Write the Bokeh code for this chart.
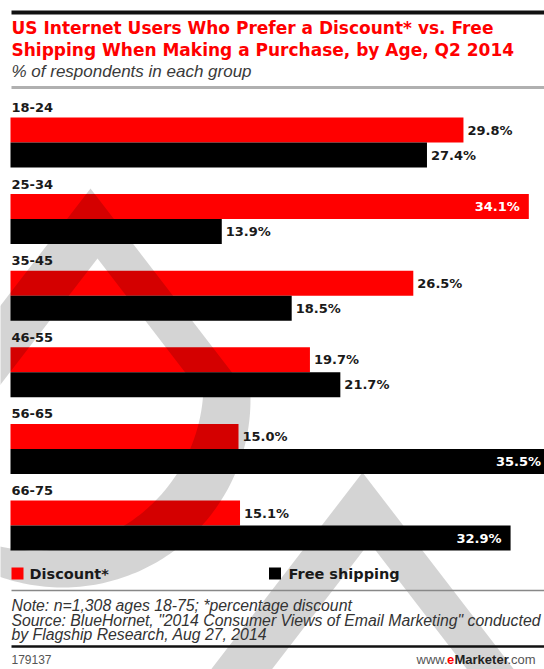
import numpy as np
from bokeh.plotting import figure
from bokeh.models import Range1d
from bokeh.embed import file_html
from bokeh.resources import INLINE
from bokeh.core.properties import value

# ---------------- data ----------------
groups = ["18-24", "25-34", "35-45", "46-55", "56-65", "66-75"]
discount = [29.8, 34.1, 26.5, 19.7, 15.0, 15.1]
free_shipping = [27.4, 13.9, 18.5, 21.7, 35.5, 32.9]
series_names = ["Discount*", "Free shipping"]
series_colors = ["#ff0000", "#000000"]

title_lines = ["US Internet Users Who Prefer a Discount* vs. Free",
               "Shipping When Making a Purchase, by Age, Q2 2014"]
subtitle = "% of respondents in each group"
note_lines = ["Note: n=1,308 ages 18-75; *percentage discount",
              "Source: BlueHornet, \"2014 Consumer Views of Email Marketing\" conducted",
              "by Flagship Research, Aug 27, 2014"]
chart_id = "179137"
brand_parts = ["www.", "e", "Marketer", ".com"]

# ---------------- layout ----------------
W, H = 544, 669
X0 = 10.0          # pixel of the value 0
SCALE = 15.2       # pixels per percentage point
GROUP_Y0 = 107.0   # centre of first group label (pixels from top)
PITCH = 76.6
RED_OFF, BLK_OFF, BAR_H = 22.5, 47.5, 25
INSIDE_MIN = 30.0

BOLD = value("DejaVu Sans")
SANS = value("Liberation Sans")


def px(xp):
    """pixel x -> data x (percentage units)"""
    return (np.asarray(xp, dtype=float) - X0) / SCALE


p = figure(width=W, height=H, output_backend="svg", toolbar_location=None,
           x_range=Range1d(float(px(0)), float(px(W))), y_range=Range1d(H, 0),
           x_axis_location=None, y_axis_location=None, min_border=0)
p.grid.visible = False
p.outline_line_color = None
p.background_fill_color = "white"
p.border_fill_color = "white"

n = len(groups)
gy = [GROUP_Y0 + i * PITCH for i in range(n)]
red_y = [g + RED_OFF for g in gy]
blk_y = [g + BLK_OFF for g in gy]

# bars
p.hbar(y=red_y, left=0, right=discount, height=BAR_H, fill_color=series_colors[0],
       line_color=None)
p.hbar(y=blk_y, left=0, right=free_shipping, height=BAR_H, fill_color=series_colors[1],
       line_color=None)


# ---------------- watermark (decorative logo shape) ----------------
def logo_outline(apex, centre, radius, slope=1.3, npts=140):
    P = np.array(apex, float)
    C = np.array(centre, float)
    dr = np.array([1.0, slope]) / np.hypot(1.0, slope)
    dl = np.array([-dr[0], dr[1]])

    def exit_point(d):
        b = d @ (P - C)
        c = (P - C) @ (P - C) - radius ** 2
        s = -b + np.sqrt(b * b - c)
        return P + s * d

    pr, pl = exit_point(dr), exit_point(dl)
    tr = np.arctan2(pr[1] - C[1], pr[0] - C[0])
    tl = np.arctan2(pl[1] - C[1], pl[0] - C[0])
    t = np.linspace(tr, tl, npts)
    xs = np.concatenate([[P[0]], C[0] + radius * np.cos(t)])
    ys = np.concatenate([[P[1]], C[1] + radius * np.sin(t)])
    return xs, ys


wx, wy = [], []
for dx, dy in [(0, 0), (272, 284)]:
    ox, oy = logo_outline((90 + dx, 188 + dy), (62 + dx, 399 + dy), 188)
    ix, iy = logo_outline((97 + dx, 258 + dy), (36 + dx, 383 + dy), 167)
    wx.append([[px(ox).tolist(), px(ix[::-1]).tolist()]])
    wy.append([[oy.tolist(), iy[::-1].tolist()]])
p.multi_polygons(xs=wx, ys=wy, fill_color="black", fill_alpha=0.17, line_color=None)

# group labels
p.text(x=[0] * n, y=gy, text=groups, text_font=BOLD, text_font_style="bold",
       text_font_size="13px", text_color="#1a1a1a", text_baseline="middle",
       text_align="left", x_offset=1)

# value labels
for vals, ys in [(discount, red_y), (free_shipping, blk_y)]:
    out_x = [v for v in vals if v < INSIDE_MIN]
    out_y = [y for v, y in zip(vals, ys) if v < INSIDE_MIN]
    out_t = ["%.1f%%" % v for v in vals if v < INSIDE_MIN]
    in_x = [v for v in vals if v >= INSIDE_MIN]
    in_y = [y for v, y in zip(vals, ys) if v >= INSIDE_MIN]
    in_t = ["%.1f%%" % v for v in vals if v >= INSIDE_MIN]
    p.text(x=out_x, y=out_y, text=out_t, text_font=BOLD, text_font_style="bold",
           text_font_size="13px", text_color="#1a1a1a", text_baseline="middle",
           text_align="left", x_offset=4)
    p.text(x=in_x, y=in_y, text=in_t, text_font=BOLD, text_font_style="bold",
           text_font_size="13px", text_color="white", text_baseline="middle",
           text_align="right", x_offset=-9)

L = float(px(11))
R_ = float(px(W))

# header
p.segment(x0=[L], x1=[R_], y0=[12], y1=[12], line_color="#111", line_width=4)
p.text(x=[L] * 2, y=[27, 49], text=title_lines, text_font=BOLD,
       text_font_style="bold", text_font_size="17px", text_color="#ff0000",
       text_baseline="middle")
p.text(x=[L], y=[71], text=[subtitle], text_font=SANS, text_font_style="italic",
       text_font_size="17px", text_color="#3a3a3a", text_baseline="middle")
p.segment(x0=[L], x1=[R_], y0=[87], y1=[87], line_color="#b0b0b0", line_width=3)

# legend
p.scatter(x=px([17, 274.5]).tolist(), y=[573, 573], marker="square", size=12,
          fill_color=series_colors, line_color=None)
p.text(x=px([29, 288]).tolist(), y=[573, 573], text=series_names, text_font=BOLD,
       text_font_style="bold", text_font_size="14.5px", text_color="#1a1a1a",
       text_baseline="middle")

# notes
p.segment(x0=[L], x1=[R_], y0=[590], y1=[590], line_color="#888", line_width=1.5)
p.text(x=[L] * 3, y=[605, 620, 634], text=note_lines, text_font=SANS,
       text_font_style="italic", text_font_size="15.8px", text_color="#333",
       text_baseline="middle")
p.segment(x0=[L], x1=[R_], y0=[646], y1=[646], line_color="#111", line_width=2.5)

# footer
p.text(x=[L], y=[659], text=[chart_id], text_font=SANS, text_font_size="12px",
       text_color="#555", text_baseline="middle")
bx = [416, 446.5, 454, 507]
bstyles = ["normal", "bold", "bold", "normal"]
bcolors = ["#555", "#ff0000", "#222", "#555"]
for xp, t, st, c in zip(bx, brand_parts, bstyles, bcolors):
    p.text(x=[float(px(xp))], y=[659], text=[t], text_font=SANS, text_font_style=st,
           text_font_size="13px", text_color=c, text_baseline="middle")

open("out.html", "w").write(file_html(p, INLINE))
